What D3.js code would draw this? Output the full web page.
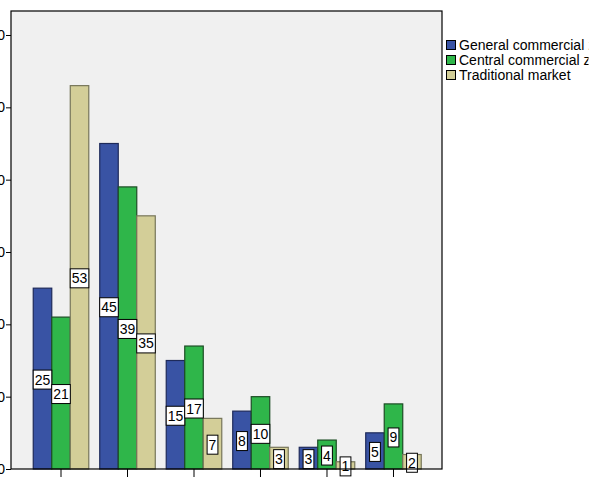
<!DOCTYPE html>
<html><head><meta charset="utf-8">
<script src="https://cdn.jsdelivr.net/npm/d3@7"></script>
<style>body{margin:0;background:#fff}svg{display:block}text{font-family:"Liberation Sans",Arial,sans-serif}</style>
</head><body>
<script>
const categories = ["1","2","3","4","5","6"];
const seriesNames = ["General commercial zone","Central commercial zone","Traditional market"];
const general = [25,45,15,8,3,5];
const central = [21,39,17,10,4,9];
const traditional = [53,35,7,3,1,2];
const colors = ["#3953a4","#2fb64a","#d3ce98"];
const strokes = ["#1e2a5a","#1d4d25","#77765a"];
const yTicks = [0,10,20,30,40,50,60];
const seriesValues = [general, central, traditional];

const W=609,H=479;
const svg=d3.select("body").append("svg").attr("width",W).attr("height",H);
const L=11,R=442,T=11,B=469;
svg.append("defs").append("clipPath").attr("id","legclip").append("rect").attr("x",440).attr("y",0).attr("width",148.5).attr("height",120);
svg.append("rect").attr("x",L).attr("y",T).attr("width",R-L).attr("height",B-T).attr("fill","#f0f0f0");

const x=d3.scaleBand().domain(categories).range([33.25,421.25]).paddingInner(0.165).paddingOuter(0);
const xs=d3.scaleBand().domain(d3.range(3)).range([0,x.bandwidth()]);
const y=d3.scaleLinear().domain([0,60]).range([B,35]);

const data=[];
categories.forEach((c,i)=>seriesValues.forEach((s,j)=>data.push({c,j,v:s[i]})));

const g=svg.append("g");
g.selectAll("rect.bar").data(data).join("rect").attr("class","bar")
 .attr("x",d=>x(d.c)+xs(d.j)).attr("width",xs.bandwidth())
 .attr("y",d=>y(d.v)).attr("height",d=>B-y(d.v))
 .attr("fill",d=>colors[d.j]).attr("stroke",d=>strokes[d.j]).attr("stroke-width",1.2);

const lab=g.selectAll("g.lab").data(data).join("g").attr("class","lab")
 .attr("transform",d=>`translate(${x(d.c)+xs(d.j)+xs.bandwidth()/2},${y(d.v/2)+1})`);
lab.each(function(d){
  const gg=d3.select(this);
  const t=String(d.v);
  const w=t.length*7.8+3;
  gg.append("rect").attr("x",-w/2).attr("y",-9.5).attr("width",w).attr("height",19).attr("fill","#fff").attr("stroke","#000").attr("stroke-width",1);
  gg.append("text").attr("text-anchor","middle").attr("dy","0.36em").attr("font-size",14).attr("fill","#000").text(t);
});

svg.append("rect").attr("x",L).attr("y",T).attr("width",R-L).attr("height",B-T).attr("fill","none").attr("stroke","#000").attr("stroke-width",1.2);

const ya=svg.append("g").attr("transform",`translate(${L},0)`).call(d3.axisLeft(y).tickValues(yTicks).tickSize(5).tickPadding(1));
ya.select(".domain").remove();
ya.selectAll("text").attr("font-size",14).attr("fill","#000").style("font-family","Liberation Sans");
const xa=svg.append("g").attr("transform",`translate(0,${B})`).call(d3.axisBottom(x).tickSize(8).tickFormat(""));
xa.select(".domain").remove();

const leg=svg.append("g").attr("clip-path","url(#legclip)").append("g").attr("transform","translate(446,40)");
seriesNames.forEach((n,i)=>{
  const r=leg.append("g").attr("transform",`translate(0,${i*15})`);
  r.append("rect").attr("x",0.5).attr("y",0.5).attr("width",9).attr("height",9).attr("fill",colors[i]).attr("stroke","#000").attr("stroke-width",1);
  r.append("text").attr("x",13).attr("y",10).attr("font-size",14).attr("fill","#000").text(n);
});
</script>
</body></html>
